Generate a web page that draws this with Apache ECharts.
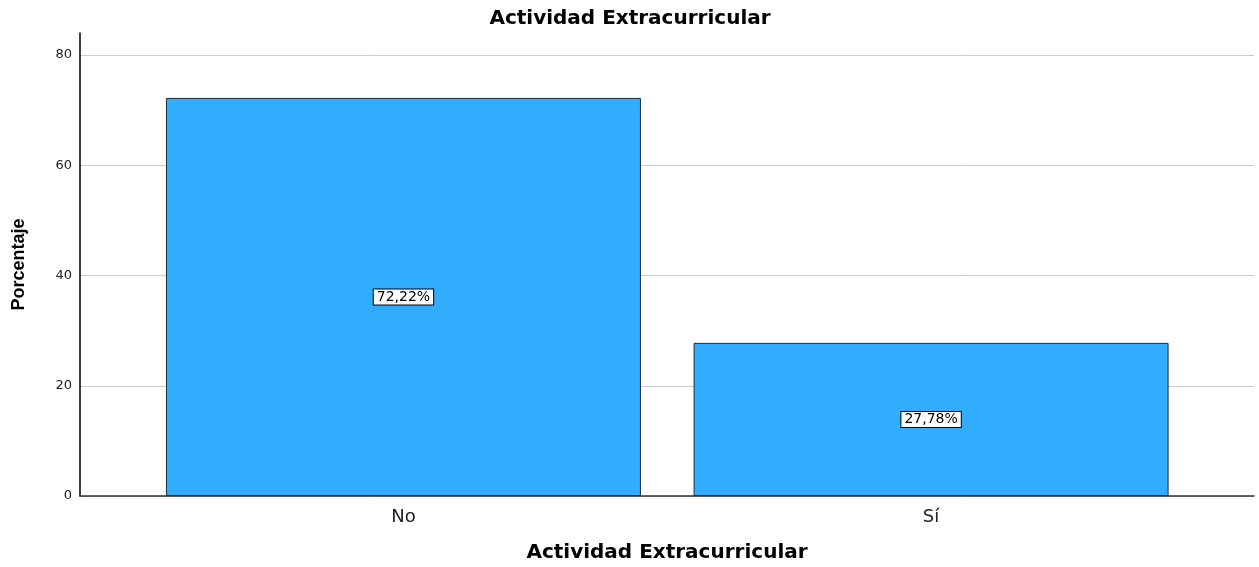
<!DOCTYPE html>
<html>
<head>
<meta charset="utf-8">
<script src="https://cdn.jsdelivr.net/npm/echarts@6/dist/echarts.min.js"></script>
<style>
html, body { margin: 0; padding: 0; background: #fff; }
#chart { width: 1259px; height: 567px; }
</style>
</head>
<body>
<div id="chart"></div>
<script>
// Categories and their percentages
const categories = ['No', 'Sí'];
const percentages = [72.22, 27.78];
const yTicks = [0, 20, 40, 60, 80];

const chart = echarts.init(document.getElementById('chart'));

// Bars sit on a numeric x scale so the plot can extend beyond the bars on both sides
const barData = categories.map((c, i) => [i, percentages[i]]);

const fmt = v => v.toFixed(2).replace('.', ',') + '%';
const wide = 'DejaVu Sans, Verdana, sans-serif';

chart.setOption({
  animation: false,
  backgroundColor: '#ffffff',
  title: {
    text: 'Actividad Extracurricular',
    left: 625,
    textAlign: 'center',
    top: 4,
    textStyle: { fontFamily: wide, fontWeight: 'bold', fontSize: 20, color: '#000' }
  },
  grid: { left: 80, right: 5, top: 33, bottom: 71, outerBoundsMode: 'none', containLabel: false },
  xAxis: {
    type: 'value',
    min: -0.613,
    max: 1.612,
    name: 'Actividad Extracurricular',
    nameLocation: 'middle',
    nameGap: 47,
    nameTextStyle: { fontFamily: wide, fontWeight: 'bold', fontSize: 20, color: '#000' },
    axisLine: { show: true, onZero: false, lineStyle: { color: '#333', width: 1.5 } },
    axisTick: { show: false },
    splitLine: { show: false },
    axisLabel: {
      customValues: categories.map((c, i) => i),
      formatter: v => categories[Math.round(v)],
      fontFamily: wide,
      fontSize: 18,
      color: '#222',
      margin: 12
    }
  },
  yAxis: {
    type: 'value',
    min: 0,
    max: 84,
    interval: 20,
    name: 'Porcentaje',
    nameLocation: 'middle',
    nameGap: 52,
    nameRotate: 90,
    nameTextStyle: { fontFamily: 'Liberation Sans, Arial, sans-serif', fontWeight: 'bold', fontSize: 18, color: '#000' },
    axisLine: { show: true, onZero: false, lineStyle: { color: '#000', width: 1.5 } },
    axisTick: { show: false },
    axisLabel: {
      customValues: yTicks,
      fontFamily: wide,
      fontSize: 13,
      color: '#222',
      margin: 8
    },
    splitLine: { show: true, showMaxLine: false, lineStyle: { color: '#cccccc', width: 1 } }
  },
  series: [{
    type: 'bar',
    data: barData,
    barWidth: 475,
    itemStyle: { color: '#31acff', borderColor: '#1c2a38', borderWidth: 1 },
    label: {
      show: true,
      position: 'inside',
      formatter: p => fmt(p.value[1]),
      fontFamily: wide,
      fontSize: 14,
      color: '#000',
      backgroundColor: '#ffffff',
      borderColor: '#000',
      borderWidth: 1,
      padding: [1, 3, 0, 3]
    }
  }]
});
</script>
</body>
</html>
